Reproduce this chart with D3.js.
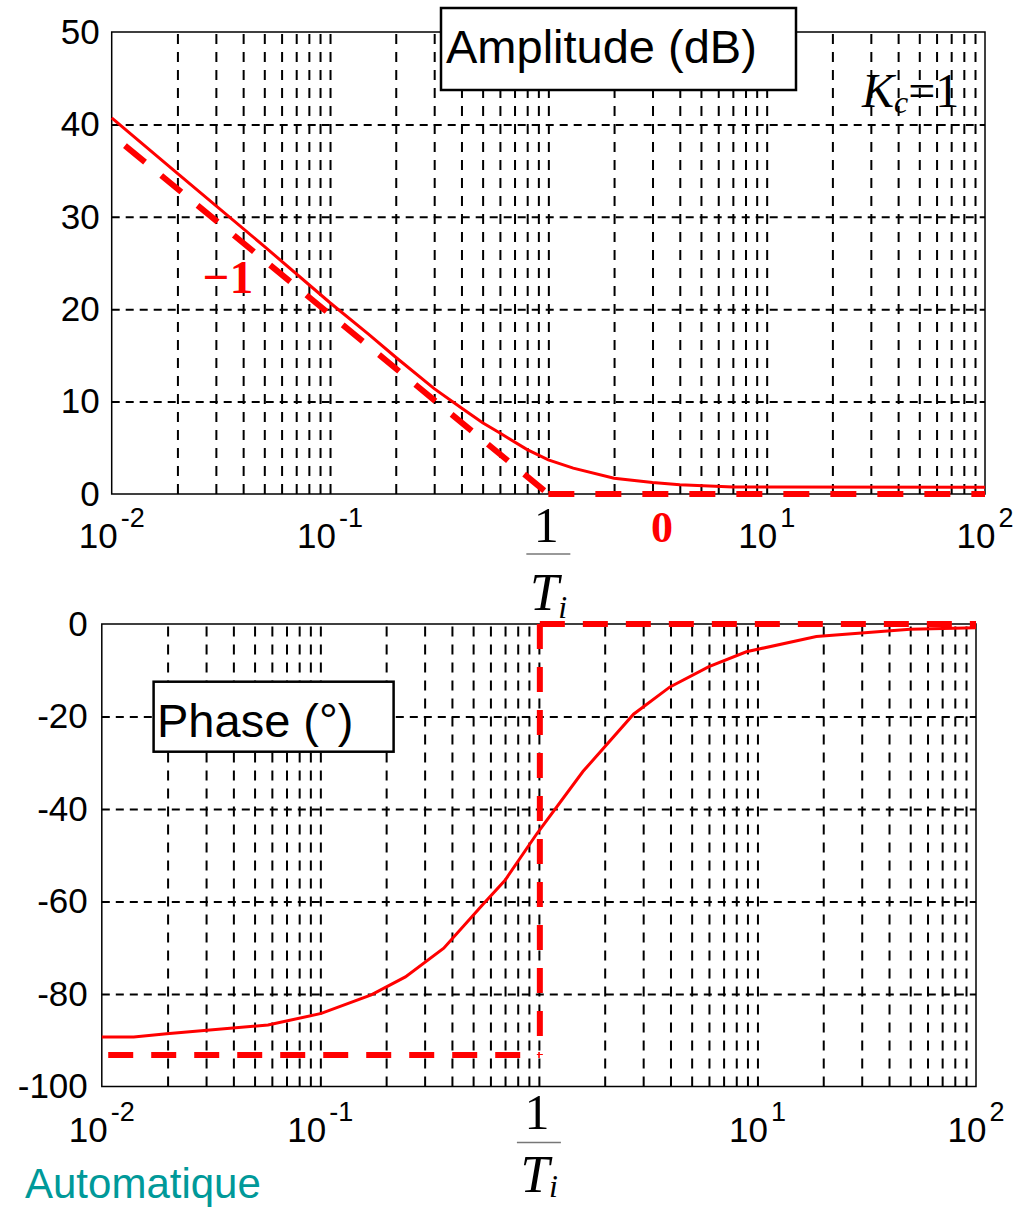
<!DOCTYPE html>
<html>
<head>
<meta charset="utf-8">
<script src="https://cdn.jsdelivr.net/npm/d3@7"></script>
<style>
  body { margin: 0; background: #fff; }
  svg { display: block; }
  .grid line { stroke: #000; stroke-width: 2; }
  .grid.vert line { stroke-dasharray: 10,8; }
  .grid.horz line { stroke-dasharray: 8,6; }
  .grid path { display: none; }
</style>
</head>
<body>
<svg id="chart" width="1018" height="1207"></svg>
<script>
// PI controller Bode diagram, Kc = 1

// amplitude (dB)
const ampFreq = [0.01, 0.02, 0.05, 0.1, 0.15, 0.2, 0.3, 0.4, 0.5, 0.6, 0.8, 1.0, 1.3, 2.0, 3.0, 4.0, 7.0, 100];
const ampDb   = [40.7, 34.7, 26.8, 20.7, 17.3, 14.8, 11.4, 9.3, 7.7, 6.6, 4.8, 3.7, 2.8, 1.7, 1.25, 1.0, 0.75, 0.72];

// straight-line approximation of the amplitude
const ampAsymFreq = [0.0115, 1, 100];
const ampAsymDb   = [37.7, 0, 0];

// phase (deg)
const phaseFreq = [0.01, 0.014, 0.0198, 0.0576, 0.101, 0.171, 0.245, 0.367, 0.55, 0.70, 0.98, 1.59, 2.71, 3.98, 6.0, 8.9, 18.6, 49.9, 100];
const phaseDeg  = [-89.3, -89.3, -88.6, -86.7, -84.2, -80.2, -76.3, -70.1, -60.8, -55.4, -45.3, -31.9, -19.5, -13.6, -9.2, -6.0, -2.7, -1.15, -0.8];

// straight-line approximation of the phase
const phaseAsymFreq = [0.0107, 1.01, 1.01, 100];
const phaseAsymDeg  = [-93.2, -93.2, 0, 0];

// ticks
const ampTicks = [0, 10, 20, 30, 40, 50];
const phaseTicks = [-100, -80, -60, -40, -20, 0];
const decadeLabels = [[0.01, "-2"], [0.1, "-1"], [10, "1"], [100, "2"]];

const gridFreq = [];
[0.01, 0.1, 1, 10].forEach(d => { for (let k = 1; k <= 9; k++) gridFreq.push(d * k); });
gridFreq.push(100);

const svg = d3.select("#chart");
const red = "#ff0000";
const sans = "'Liberation Sans', Arial, sans-serif";
const serif = "'Liberation Serif', 'Times New Roman', serif";

// plot boxes
const boxA = { left: 111.7, right: 985, top: 32, bottom: 494 };
const boxP = { left: 101.8, right: 976, top: 624, bottom: 1086.5 };

const xA = d3.scaleLog().domain([0.01, 100]).range([boxA.left, boxA.right]);
const yA = d3.scaleLinear().domain([0, 50]).range([boxA.bottom, boxA.top]);
const xP = d3.scaleLog().domain([0.01, 100]).range([boxP.left, boxP.right]);
const yP = d3.scaleLinear().domain([-100, 0]).range([boxP.bottom, boxP.top]);

function drawPanel(box, x, y, yTicks, labelPad) {
    const g = svg.append("g");
    const w = box.right - box.left, h = box.bottom - box.top;

    // vertical grid
    g.append("g").attr("class", "grid vert")
        .attr("transform", `translate(0,${box.bottom})`)
        .call(d3.axisBottom(x).tickValues(gridFreq.slice(1, -1)).tickSize(-h).tickFormat(""));

    // horizontal grid
    g.append("g").attr("class", "grid horz")
        .attr("transform", `translate(${box.left},0)`)
        .call(d3.axisLeft(y).tickValues(yTicks.slice(1, -1)).tickSize(-w).tickFormat(""));

    // frame
    g.append("rect")
        .attr("x", box.left).attr("y", box.top)
        .attr("width", w).attr("height", h)
        .attr("fill", "none").attr("stroke", "#000").attr("stroke-width", 1.5);

    // y tick labels
    const ya = g.append("g")
        .attr("transform", `translate(${box.left},0)`)
        .call(d3.axisLeft(y).tickValues(yTicks).tickSize(0).tickPadding(labelPad).tickFormat(d => String(d)));
    ya.select(".domain").remove();
    ya.selectAll("text").attr("font-family", sans).attr("font-size", 35).attr("fill", "#000");

    return g;
}

// dashed asymptotes: each straight piece gets its own dash start,
// vertical pieces are drawn downwards
function drawAsym(line, xs, ys, dash) {
    d3.pairs(d3.zip(xs, ys)).forEach(([a, b]) => {
        const seg = (a[0] === b[0] && a[1] < b[1]) ? [b, a] : [a, b];
        svg.append("path")
            .attr("d", line(seg))
            .attr("fill", "none").attr("stroke", red).attr("stroke-width", 6)
            .attr("stroke-dasharray", dash);
    });
}

function decadeText(x, yBase) {
    decadeLabels.forEach(([v, e]) => {
        const t = svg.append("text")
            .attr("x", x(v)).attr("y", yBase)
            .attr("text-anchor", "middle")
            .attr("font-family", sans).attr("font-size", 35);
        t.append("tspan").text("10");
        t.append("tspan").attr("font-size", 27).attr("dy", -21).attr("dx", 3).text(e);
    });
}

function fraction(cx, axisY, o) {
    const g = svg.append("g").attr("transform", `translate(${cx},${axisY})`);
    g.append("text").attr("x", -2).attr("y", o.one)
        .attr("text-anchor", "middle").attr("font-family", serif).attr("font-size", 50).text("1");
    g.append("line").attr("x1", -22).attr("x2", 22).attr("y1", o.bar).attr("y2", o.bar)
        .attr("stroke", "#777").attr("stroke-width", 1.5);
    g.append("text").attr("x", -4).attr("y", o.T)
        .attr("text-anchor", "middle").attr("font-family", serif).attr("font-style", "italic")
        .attr("font-size", 52).text("T");
    g.append("text").attr("x", 10).attr("y", o.T + o.sub)
        .attr("font-family", serif).attr("font-style", "italic").attr("font-size", 32).text("i");
}

function label(x, y, text, size, anchor) {
    svg.append("text").attr("x", x).attr("y", y)
        .attr("text-anchor", anchor || "middle")
        .attr("font-family", sans).attr("font-size", size).text(text);
}

// ---------- amplitude ----------
drawPanel(boxA, xA, yA, ampTicks, 12);

const lineA = d3.line().x(d => xA(d[0])).y(d => yA(d[1]));
svg.append("path")
    .attr("d", lineA(d3.zip(ampFreq, ampDb)))
    .attr("fill", "none").attr("stroke", red).attr("stroke-width", 3);
drawAsym(lineA, ampAsymFreq, ampAsymDb, "26,21");

svg.append("rect").attr("x", 441).attr("y", 8).attr("width", 355).attr("height", 82)
    .attr("fill", "#fff").attr("stroke", "#000").attr("stroke-width", 2.5);
label(446, 63, "Amplitude (dB)", 47, "start");

const kc = svg.append("text").attr("x", 862).attr("y", 107)
    .attr("font-family", serif).attr("font-size", 48);
kc.append("tspan").attr("font-style", "italic").text("K");
kc.append("tspan").attr("font-style", "italic").attr("font-size", 32).attr("dy", 6).text("c");
kc.append("tspan").attr("dy", -6).text("=1");

svg.append("text").attr("x", 228).attr("y", 293).attr("text-anchor", "middle")
    .attr("font-family", serif).attr("font-weight", "bold").attr("font-size", 47)
    .attr("fill", red).text("\u22121");
svg.append("text").attr("x", 662).attr("y", 542).attr("text-anchor", "middle")
    .attr("font-family", serif).attr("font-weight", "bold").attr("font-size", 44)
    .attr("fill", red).text("0");

decadeText(xA, 548);
fraction(xA(1), boxA.bottom, { one: 48, bar: 60, T: 116, sub: 8 });

// ---------- phase ----------
drawPanel(boxP, xP, yP, phaseTicks, 14);

const lineP = d3.line().x(d => xP(d[0])).y(d => yP(d[1]));
svg.append("path")
    .attr("d", lineP(d3.zip(phaseFreq, phaseDeg)))
    .attr("fill", "none").attr("stroke", red).attr("stroke-width", 3);
drawAsym(lineP, phaseAsymFreq, phaseAsymDeg, "25,18");

svg.append("rect").attr("x", 153.6).attr("y", 681.7).attr("width", 240).attr("height", 70)
    .attr("fill", "#fff").attr("stroke", "#000").attr("stroke-width", 2.5);
label(157, 737, "Phase (\u00b0)", 47, "start");

decadeText(xP, 1142);
fraction(xP(1), boxP.bottom, { one: 42, bar: 56, T: 105, sub: 5 });

// footer
svg.append("text").attr("x", 25).attr("y", 1198)
    .attr("font-family", sans).attr("font-size", 42).attr("fill", "#009999")
    .text("Automatique");
</script>
</body>
</html>
